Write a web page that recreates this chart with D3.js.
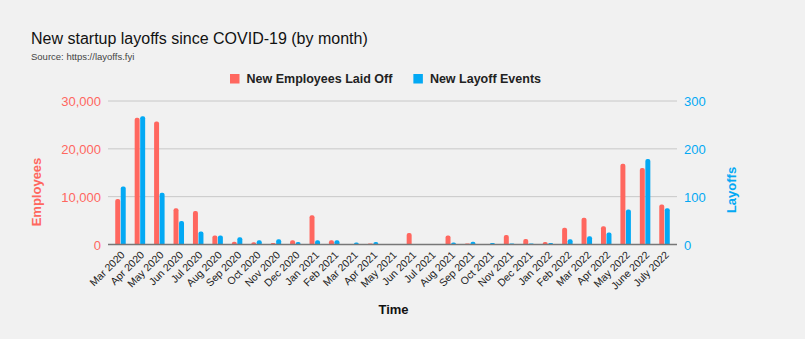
<!DOCTYPE html>
<html><head><meta charset="utf-8">
<script src="https://cdn.jsdelivr.net/npm/d3@7"></script>
<style>
html,body{margin:0;padding:0;background:#f1f1f1;}
svg{display:block;font-family:"Liberation Sans",Arial,sans-serif;}
</style></head>
<body>
<svg id="chart" width="805" height="339"></svg>
<script>
const months = ["Mar 2020","Apr 2020","May 2020","Jun 2020","Jul 2020","Aug 2020","Sep 2020","Oct 2020","Nov 2020","Dec 2020","Jan 2021","Feb 2021","Mar 2021","Apr 2021","May 2021","Jun 2021","Jul 2021","Aug 2021","Sep 2021","Oct 2021","Nov 2021","Dec 2021","Jan 2022","Feb 2022","Mar 2022","Apr 2022","May 2022","June 2022","July 2022"];
const employeesLaidOff = [9500,26500,25700,7600,7000,1900,550,450,300,900,6100,900,0,200,0,2400,0,1900,200,0,2000,1150,520,3500,5600,3800,16900,16000,8350];
const layoffEvents = [121,268,108,49,27,19,15,9,11,5,9,9,4,5,0,0,0,4,6,3,2,2,3,11,17,25,73,179,76];
const leftTicks = [0,10000,20000,30000];
const rightTicks = [0,100,200,300];
const seriesNames = ["New Employees Laid Off","New Layoff Events"];

const RED = "#ff675f", BLUE = "#03a9f4";
const svg = d3.select("#chart");
const W = 805, H = 339;
svg.append("rect").attr("width",W).attr("height",H).attr("fill","#f1f1f1");

const L = 108, R = 677, T = 101, B = 244.5;
const x0 = d3.scaleBand().domain(months).range([L,R]).paddingInner(0.46).paddingOuter(0.3725);
const x1 = d3.scaleBand().domain(["e","l"]).range([0,x0.bandwidth()]).paddingInner(0.1);
const yL = d3.scaleLinear().domain([0,30000]).range([B,T]);
const yR = d3.scaleLinear().domain([0,300]).range([B,T]);

// title
svg.append("text").attr("x",31).attr("y",43.5).attr("font-size",16).attr("fill","#111").text("New startup layoffs since COVID-19 (by month)");
svg.append("text").attr("x",31).attr("y",59.5).attr("font-size",9.5).attr("fill","#444").text("Source: https://layoffs.fyi");

// gridlines
const grid = svg.append("g");
leftTicks.filter(d=>d>0).forEach(t=>{
  grid.append("line").attr("x1",L).attr("x2",R).attr("y1",yL(t)).attr("y2",yL(t)).attr("stroke","#c8c8c8").attr("stroke-width",1);
});

// bars
function barPath(x,w,y0,y1){
  const h = y0-y1; if(h<=0) return "";
  const r = Math.min(2,h,w/2);
  return `M${x},${y0}V${y1+r}Q${x},${y1} ${x+r},${y1}H${x+w-r}Q${x+w},${y1} ${x+w},${y1+r}V${y0}Z`;
}
const g = svg.append("g");
months.forEach((m,i)=>{
  g.append("path").attr("d",barPath(x0(m)+x1("e"),x1.bandwidth(),B,yL(employeesLaidOff[i]))).attr("fill",RED);
  g.append("path").attr("d",barPath(x0(m)+x1("l"),x1.bandwidth(),B,yR(layoffEvents[i]))).attr("fill",BLUE);
});

// baseline
svg.append("line").attr("x1",L).attr("x2",R).attr("y1",B).attr("y2",B).attr("stroke","#777").attr("stroke-width",1.3);

// left axis
const axL = svg.append("g").attr("transform",`translate(${L-7},0)`)
  .call(d3.axisLeft(yL).tickValues(leftTicks).tickFormat(d3.format(",")).tickSize(0).tickPadding(0));
axL.select(".domain").remove();
axL.selectAll("text").attr("fill",RED).attr("font-size",13).attr("font-family","Liberation Sans,Arial,sans-serif").attr("dy","0.36em");

// right axis
const axR = svg.append("g").attr("transform",`translate(684,0)`)
  .call(d3.axisRight(yR).tickValues(rightTicks).tickSize(0).tickPadding(0));
axR.select(".domain").remove();
axR.selectAll("text").attr("fill",BLUE).attr("font-size",13).attr("font-family","Liberation Sans,Arial,sans-serif").attr("dy","0.36em");

// x axis labels
const axX = svg.append("g").attr("transform",`translate(0,${B})`)
  .call(d3.axisBottom(x0).tickSize(0).tickPadding(0));
axX.select(".domain").remove();
axX.selectAll("text").attr("font-size",10.5).attr("fill","#222").attr("font-family","Liberation Sans,Arial,sans-serif")
  .attr("text-anchor","end").attr("dy",null).attr("y",0)
  .attr("transform","translate(5,11) rotate(-45)");

// axis titles
svg.append("text").attr("transform","translate(41,192) rotate(-90)").attr("text-anchor","middle")
  .attr("font-size",13).attr("font-weight","bold").attr("fill",RED).text("Employees");
svg.append("text").attr("transform","translate(736,190) rotate(-90)").attr("text-anchor","middle")
  .attr("font-size",13).attr("font-weight","bold").attr("fill",BLUE).text("Layoffs");
svg.append("text").attr("x",393.5).attr("y",313.5).attr("text-anchor","middle")
  .attr("font-size",13).attr("font-weight","bold").attr("fill","#111").text("Time");

// legend
const lg = svg.append("g");
let lx = 230;
seriesNames.forEach((s,i)=>{
  lg.append("rect").attr("x",lx).attr("y",74).attr("width",9.5).attr("height",9.5).attr("fill",i===0?RED:BLUE);
  const t = lg.append("text").attr("x",lx+16.5).attr("y",82.5).attr("font-size",12.5).attr("font-weight","bold").attr("fill","#222").text(s);
  lx = lx + 16.5 + t.node().getComputedTextLength() + 21;
});
</script>
</body></html>
